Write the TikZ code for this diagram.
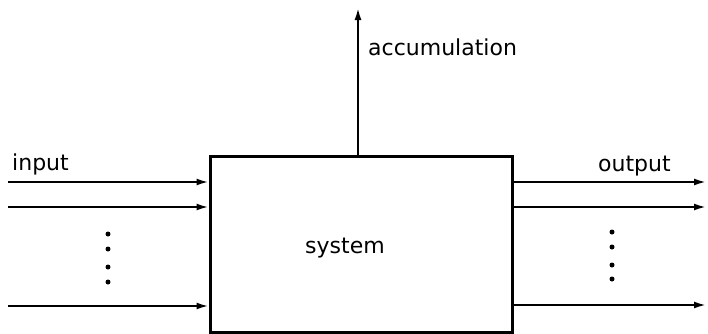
\documentclass[tikz,border=0pt]{standalone}
\usepackage{fontspec}
\setmainfont{DejaVu Sans}
\usetikzlibrary{arrows.meta}
\begin{document}
\begin{tikzpicture}[x=1pt,y=-1pt,
  flow/.style={line width=2pt,-{Latex[length=12pt,width=7pt]}},
  lbl/.style={font=\fontsize{22}{24}\selectfont,inner sep=0pt,anchor=base west},
  dotmark/.style={circle,fill=black,inner sep=0pt,minimum size=5pt}]
\useasboundingbox (0,0) rectangle (708,333);
\node[draw,line width=3pt,minimum width=302pt,minimum height=176pt,inner sep=0pt] (sys) at (361,244) {};
\node[lbl] (syslbl) at (305,253) {system};
% input arrows
\coordinate (i1) at (8,182);
\coordinate (i2) at (8,207);
\coordinate (i3) at (8,306);
\draw[flow] (i1) -- (i1 -| sys.west);
\draw[flow] (i2) -- (i2 -| sys.west);
\draw[flow] (i3) -- (i3 -| sys.west);
\node[lbl] (inlbl) at (12,170) {input};
% output arrows
\coordinate (o1) at (706,182);
\coordinate (o2) at (706,207);
\coordinate (o3) at (706,305);
\draw[flow] (o1 -| sys.east) -- (o1);
\draw[flow] (o2 -| sys.east) -- (o2);
\draw[flow] (o3 -| sys.east) -- (o3);
\node[lbl] (outlbl) at (598,171) {output};
% accumulation
\coordinate (acc) at (358,8);
\draw[flow] (acc |- sys.north) -- (acc);
\node[lbl] (acclbl) at (368,55) {accumulation};
% dots
\foreach \y [count=\k] in {234,249,267,282} \node[dotmark] (ld\k) at (108,\y) {};
\foreach \y [count=\k] in {232,247,265,279} \node[dotmark] (rd\k) at (612,\y) {};
\end{tikzpicture}
\end{document}
